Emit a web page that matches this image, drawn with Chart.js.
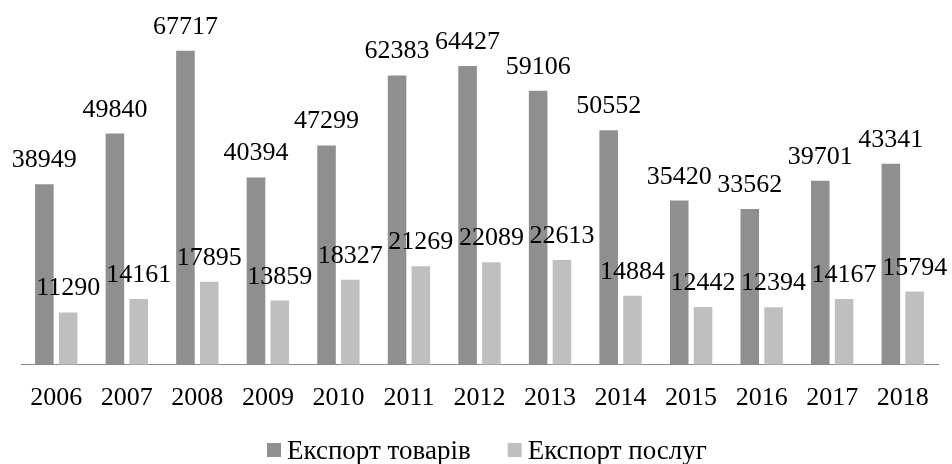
<!DOCTYPE html>
<html>
<head>
<meta charset="utf-8">
<script src="https://cdn.jsdelivr.net/npm/chart.js@4"></script>
<style>
  html, body { margin: 0; padding: 0; background: #fff; }
  #wrap { width: 952px; height: 464px; }
</style>
</head>
<body>
<div id="wrap"><canvas id="myChart" width="952" height="464"></canvas></div>
<script>
const years = ["2006", "2007", "2008", "2009", "2010", "2011", "2012", "2013", "2014", "2015", "2016", "2017", "2018"];
const goodsExport = [38949, 49840, 67717, 40394, 47299, 62383, 64427, 59106, 50552, 35420, 33562, 39701, 43341];
const servicesExport = [11290, 14161, 17895, 13859, 18327, 21269, 22089, 22613, 14884, 12442, 12394, 14167, 15794];
const seriesNames = ["Експорт товарів", "Експорт послуг"];
const seriesColours = ["#8f8f8f", "#bfbfbf"];

const serif = "'Liberation Serif', 'Times New Roman', serif";

// value labels above each bar
const valueLabels = {
    id: "valueLabels",
    afterDatasetsDraw(chart) {
        const ctx = chart.ctx;
        ctx.save();
        ctx.font = "26px " + serif;
        ctx.fillStyle = "#000";
        ctx.textAlign = "center";
        ctx.textBaseline = "alphabetic";
        chart.data.datasets.forEach((ds, i) => {
            chart.getDatasetMeta(i).data.forEach((bar, j) => {
                ctx.fillText(String(ds.data[j]), bar.x, bar.y - 17);
            });
        });
        ctx.restore();
    }
};

// legend drawn by hand so the box/text gaps match the original
const bottomLegend = {
    id: "bottomLegend",
    afterDraw(chart) {
        const ctx = chart.ctx;
        ctx.save();
        ctx.font = "27px " + serif;
        ctx.textBaseline = "alphabetic";
        ctx.textAlign = "left";
        let x = 267;
        chart.data.datasets.forEach((ds) => {
            ctx.fillStyle = ds.backgroundColor;
            ctx.fillRect(x, 443, 14, 14);
            ctx.fillStyle = "#000";
            ctx.fillText(ds.label, x + 20, 459);
            x += 20 + ctx.measureText(ds.label).width + 37;
        });
        ctx.restore();
    }
};

new Chart(document.getElementById("myChart").getContext("2d"), {
    type: "bar",
    data: {
        labels: years,
        datasets: [
            {
                label: seriesNames[0],
                data: goodsExport,
                backgroundColor: seriesColours[0],
                categoryPercentage: 0.675,
                barPercentage: 0.78
            },
            {
                label: seriesNames[1],
                data: servicesExport,
                backgroundColor: seriesColours[1],
                categoryPercentage: 0.675,
                barPercentage: 0.78
            }
        ]
    },
    options: {
        responsive: false,
        animation: false,
        layout: { padding: { left: 21, right: 14, top: 3, bottom: 32 } },
        plugins: {
            legend: { display: false },
            tooltip: { enabled: false }
        },
        scales: {
            x: {
                grid: { display: false, drawTicks: false },
                border: { display: true, color: "#888", width: 1 },
                ticks: {
                    color: "#000",
                    padding: 18,
                    font: { family: serif, size: 26 }
                }
            },
            y: {
                display: false,
                min: 0,
                max: 78000
            }
        }
    },
    plugins: [valueLabels, bottomLegend]
});
</script>
</body>
</html>
